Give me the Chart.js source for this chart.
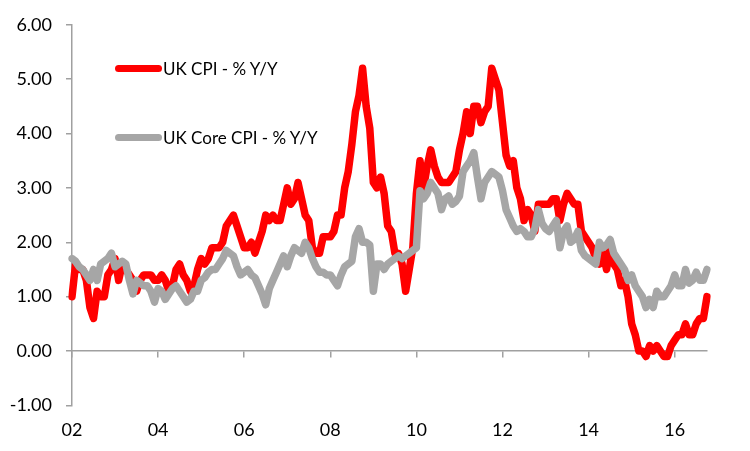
<!DOCTYPE html>
<html>
<head>
<meta charset="utf-8">
<title>UK CPI vs Core CPI</title>
<script src="https://cdn.jsdelivr.net/npm/chart.js@4.4.1/dist/chart.umd.min.js"></script>
<style>
    html, body { margin: 0; padding: 0; background: #ffffff; }
    #wrap { position: relative; width: 750px; height: 451px; }
    .legend-item { position: absolute; left: 115px; height: 22px; font-family: Lato, "Open Sans", sans-serif; font-size: 17px; color: #000; white-space: nowrap; }
    .legend-line { position: absolute; left: 0; top: 7px; width: 47px; height: 7px; border-radius: 4px; }
    .legend-text { position: absolute; left: 48px; top: 0; line-height: 22px; }
</style>
</head>
<body>
<div id="wrap">
    <canvas id="cpiChart" width="750" height="451"></canvas>
    <div id="legend"></div>
</div>
<script>
// monthly series, Dec 2001 .. Sep 2016 (% Y/Y)
const seriesNames = ['UK CPI - % Y/Y', 'UK Core CPI - % Y/Y'];
const seriesColors = ['#ff0000', '#a6a6a6'];
const yearTicks = ['02', '04', '06', '08', '10', '12', '14', '16'];

const ukCpi = [
    1.0,
    1.6, 1.5, 1.5, 1.3, 0.8, 0.6, 1.1, 1.0, 1.0, 1.4, 1.5, 1.7,   // 2002
    1.3, 1.6, 1.5, 1.4, 1.3, 1.1, 1.3, 1.4, 1.4, 1.4, 1.3, 1.3,   // 2003
    1.4, 1.3, 1.1, 1.2, 1.5, 1.6, 1.4, 1.3, 1.1, 1.2, 1.5, 1.7,   // 2004
    1.6, 1.7, 1.9, 1.9, 1.9, 2.0, 2.3, 2.4, 2.5, 2.3, 2.1, 1.9,   // 2005
    1.9, 2.0, 1.8, 2.0, 2.2, 2.5, 2.4, 2.5, 2.4, 2.4, 2.7, 3.0,   // 2006
    2.7, 2.8, 3.1, 2.8, 2.5, 2.4, 1.9, 1.8, 1.8, 2.1, 2.1, 2.1,   // 2007
    2.2, 2.5, 2.5, 3.0, 3.3, 3.8, 4.4, 4.7, 5.2, 4.5, 4.1, 3.1,   // 2008
    3.0, 3.2, 2.9, 2.3, 2.2, 1.8, 1.8, 1.6, 1.1, 1.5, 1.9, 2.9,   // 2009
    3.5, 3.0, 3.4, 3.7, 3.4, 3.2, 3.1, 3.1, 3.1, 3.2, 3.3, 3.7,   // 2010
    4.0, 4.4, 4.0, 4.5, 4.5, 4.2, 4.4, 4.5, 5.2, 5.0, 4.8, 4.2,   // 2011
    3.6, 3.4, 3.5, 3.0, 2.8, 2.4, 2.6, 2.5, 2.2, 2.7, 2.7, 2.7,   // 2012
    2.7, 2.8, 2.8, 2.4, 2.7, 2.9, 2.8, 2.7, 2.7, 2.2, 2.1, 2.0,   // 2013
    1.9, 1.7, 1.6, 1.8, 1.5, 1.9, 1.6, 1.5, 1.2, 1.3, 1.0, 0.5,   // 2014
    0.3, 0.0, 0.0, -0.1, 0.1, 0.0, 0.1, 0.0, -0.1, -0.1, 0.1, 0.2, // 2015
    0.3, 0.3, 0.5, 0.3, 0.3, 0.5, 0.6, 0.6, 1.0                   // 2016
];

const ukCoreCpi = [
    1.7,
    1.65, 1.55, 1.5, 1.4, 1.3, 1.5, 1.3, 1.6, 1.65, 1.7, 1.8, 1.55,   // 2002
    1.6, 1.65, 1.6, 1.3, 1.05, 1.3, 1.25, 1.2, 1.2, 1.1, 0.9, 1.15,   // 2003
    1.1, 0.95, 1.05, 1.15, 1.2, 1.1, 1.0, 0.9, 0.95, 1.1, 1.1, 1.3,   // 2004
    1.35, 1.45, 1.5, 1.5, 1.6, 1.7, 1.85, 1.8, 1.75, 1.55, 1.4, 1.45, // 2005
    1.5, 1.4, 1.35, 1.2, 1.05, 0.85, 1.15, 1.3, 1.45, 1.6, 1.75, 1.55, // 2006
    1.75, 1.9, 1.85, 1.8, 2.0, 1.9, 1.7, 1.55, 1.45, 1.45, 1.4, 1.4,  // 2007
    1.3, 1.2, 1.4, 1.55, 1.6, 1.65, 2.1, 2.25, 2.0, 2.0, 1.95, 1.1,   // 2008
    1.6, 1.6, 1.5, 1.6, 1.65, 1.7, 1.75, 1.7, 1.75, 1.8, 1.85, 1.9,   // 2009
    2.95, 2.8, 2.9, 3.1, 3.0, 2.9, 2.6, 2.8, 2.85, 2.7, 2.75, 2.85,   // 2010
    3.3, 3.4, 3.5, 3.65, 3.2, 2.8, 3.1, 3.2, 3.3, 3.25, 3.2, 2.95,    // 2011
    2.6, 2.45, 2.3, 2.2, 2.25, 2.2, 2.1, 2.1, 2.25, 2.6, 2.35, 2.25,  // 2012
    2.2, 2.3, 2.4, 1.9, 2.2, 2.3, 2.0, 2.05, 2.2, 1.85, 1.75, 1.7,    // 2013
    1.65, 1.6, 2.0, 1.9, 1.95, 2.05, 1.8, 1.7, 1.6, 1.5, 1.3, 1.4,    // 2014
    1.2, 1.1, 1.0, 0.8, 0.95, 0.8, 1.1, 1.0, 1.0, 1.1, 1.2, 1.4,      // 2015
    1.2, 1.2, 1.5, 1.25, 1.3, 1.45, 1.3, 1.3, 1.5                     // 2016
];

// month labels for the category axis
const months = [];
for (let i = 0; i < ukCpi.length; i++) {
    const y = 2001 + Math.floor((11 + i) / 12);
    const m = (11 + i) % 12 + 1;
    months.push(y + '-' + (m < 10 ? '0' + m : m));
}

const axisGrey = '#a0a0a0';
const tickFont = { family: 'Lato, "Open Sans", sans-serif', size: 18 };

const ctx = document.getElementById('cpiChart').getContext('2d');
const cpiChart = new Chart(ctx, {
    type: 'line',
    data: {
        labels: months,
        datasets: [{
            label: seriesNames[0],
            data: ukCpi,
            borderColor: seriesColors[0],
            backgroundColor: seriesColors[0],
            borderWidth: 7.5,
            pointRadius: 0,
            borderJoinStyle: 'round',
            borderCapStyle: 'round',
            tension: 0,
            order: 1
        }, {
            label: seriesNames[1],
            data: ukCoreCpi,
            borderColor: seriesColors[1],
            backgroundColor: seriesColors[1],
            borderWidth: 7.5,
            pointRadius: 0,
            borderJoinStyle: 'round',
            borderCapStyle: 'round',
            tension: 0,
            order: 0
        }]
    },
    options: {
        responsive: false,
        animation: false,
        layout: { padding: { left: 2, right: 43, top: 24, bottom: -4 } },
        plugins: {
            legend: { display: false },
            tooltip: { enabled: false }
        },
        scales: {
            x: {
                type: 'category',
                position: 'bottom',
                offset: false,
                grid: { display: false, drawTicks: false },
                border: { display: false },
                ticks: {
                    autoSkip: false,
                    maxRotation: 0,
                    padding: 14,
                    color: '#000',
                    font: tickFont,
                    callback: function (value, index) {
                        return index % 24 === 0 ? yearTicks[index / 24] : null;
                    }
                }
            },
            xZero: {
                type: 'category',
                position: { y: 0 },
                offset: false,
                grid: {
                    drawOnChartArea: false,
                    drawTicks: true,
                    tickLength: 6,
                    color: function (c) { return c.index % 24 === 0 ? axisGrey : 'rgba(0,0,0,0)'; },
                    lineWidth: 1.5
                },
                border: { display: true, color: axisGrey, width: 1.5 },
                ticks: { display: false, autoSkip: false }
            },
            y: {
                min: -1,
                max: 6,
                afterFit: function (scale) { scale.width = 70; },
                ticks: {
                    stepSize: 1,
                    padding: 14,
                    color: '#000',
                    font: tickFont,
                    callback: function (v) { return v.toFixed(2); }
                },
                grid: {
                    drawOnChartArea: false,
                    tickLength: 6,
                    color: axisGrey,
                    tickColor: axisGrey,
                    lineWidth: 1.5
                },
                border: { display: true, color: axisGrey, width: 1.5 }
            }
        }
    }
});

// legend placed inside the plot like the original
const legendBox = document.getElementById('legend');
const legendTops = [58, 127];
seriesNames.forEach(function (name, i) {
    const item = document.createElement('div');
    item.className = 'legend-item';
    item.style.top = legendTops[i] + 'px';
    const line = document.createElement('div');
    line.className = 'legend-line';
    line.style.background = seriesColors[i];
    const text = document.createElement('span');
    text.className = 'legend-text';
    text.textContent = name;
    item.appendChild(line);
    item.appendChild(text);
    legendBox.appendChild(item);
});
</script>
</body>
</html>
